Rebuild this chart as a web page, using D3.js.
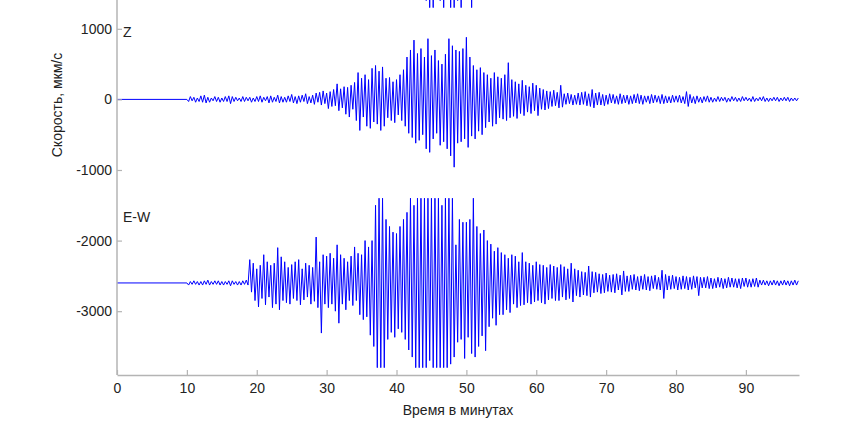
<!DOCTYPE html>
<html><head><meta charset="utf-8">
<script src="https://cdn.jsdelivr.net/npm/d3@7"></script>
<style>
html,body{margin:0;padding:0;background:#fff;}
svg{display:block;font-family:"Liberation Sans",Arial,Helvetica,sans-serif;}
</style></head><body>
<svg id="chart" width="848" height="424"></svg>
<script>
// ---------------- data ----------------
const xTicks = [0,10,20,30,40,50,60,70,80,90];
const yTicks = [-3000,-2000,-1000,0,1000];
const xLabel = "Время в минутах";
const yLabel = "Скорость, мкм/с";
const traceNames = ["Z","E-W","N-S"];
const traceOffsets = [0,-2600,2600];     // baseline of each trace, мкм/с
const traceStart = [10,10,42];          // first sample, minutes
const sampleStep = 0.25;                // minutes between samples
const leadStart = 0;                    // flat trace before first sample

// Z component, deviation from baseline (мкм/с), every 0.25 min from 10 min
const zValues = [
 0,-30,40,-20, 30,-40,20,-30, 50,-40,60,-50, 30,-40,20,-20, 40,-30,30,-40,
 20,-30,40,-30, 50,-60,40,-30, 30,-20,20,-30, 40,-30,30,-20, 30,-40,20,-30,
 40,-30,50,-40, 30,-20,40,-50, 50,-40,30,-30, 60,-50,40,-40, 30,-40,50,-30,
 70,-50,40,-60, 50,-40,60,-30, 80,-60,40,-50, 60,-70,90,-40, 100,-80,120,-60,
 90,-130,110,-100, 140,-90,220,-160, 150,-120,180,-210, 170,-250,200,-140, 240,-300,380,-440,
 300,-250,350,-380, 280,-410,440,-320, 480,-350,400,-440, 460,-380,300,-260, 310,-300,250,-330,
 280,-220,350,-300, 420,-380,600,-480, 700,-540,840,-620, 650,-580,720,-500, 600,-700,860,-750,
 620,-560,700,-480, 550,-650,500,-600, 640,-700,860,-800, 760,-960,700,-620, 680,-600,720,-560,
 880,-680,600,-520, 480,-560,420,-450, 450,-500,380,-400, 350,-320,300,-380, 380,-350,320,-260,
 300,-280,350,-300, 520,-260,280,-240, 250,-270,220,-200, 270,-230,200,-180, 180,-200,230,-160,
 200,-230,160,-140, 140,-150,120,-130, 110,-100,130,-90, 100,-120,200,-110, 80,-70,90,-60,
 70,-80,60,-70, 90,-80,100,-70, 110,-90,80,-100, 140,-120,90,-80, 100,-80,70,-90,
 60,-70,80,-50, 70,-60,50,-70, 80,-60,60,-50, 60,-70,50,-60, 70,-50,80,-60,
 60,-70,50,-40, 50,-60,70,-50, 60,-40,50,-60, 70,-60,50,-50, 40,-50,60,-40,
 50,-40,60,-50, 40,-60,110,-100, 70,-50,40,-60, 50,-40,30,-50, 40,-30,50,-40,
 30,-40,20,-30, 40,-30,30,-20, 30,-40,20,-30, 40,-20,30,-30, 20,-30,40,-20,
 30,-20,20,-30, 40,-30,20,-20, 30,-20,40,-30, 20,-30,20,-20, 30,-20,30,-30,
 20,-20,30,-20, 30,-30,20,-20, 20,-20,20
];

// E-W component, deviation from baseline (мкм/с), every 0.25 min from 10 min
const ewValues = [
 0,-30,20,-20, 30,-20,20,-30, 20,-30,30,-20, 40,-30,20,-20, 30,-20,30,-30,
 20,-30,20,-20, 30,-40,30,-20, 20,-30,20,-30, 30,-20,40,-30, 330,-130,280,-250,
 200,-340,250,-220, 400,-310,300,-200, 250,-350,280,-300, 500,-380,370,-250, 300,-280,220,-300,
 260,-220,300,-250, 330,-310,200,-240, 280,-200,250,-300, 220,-260,650,-350, 300,-710,400,-300,
 380,-350,420,-300, 350,-400,540,-570, 400,-300,350,-380, 300,-250,380,-320, 510,-250,420,-450,
 400,-520,600,-480, 510,-740,600,-900, 1100,-1200,1200,-1200, 1200,-1200,900,-800, 800,-700,720,-770,
 700,-650,800,-700, 900,-800,1000,-950, 1200,-1050,1100,-1200, 1200,-1200,1200,-1200, 1200,-1200,1200,-1100,
 1200,-1200,1200,-1200, 1200,-1200,1100,-1200, 1200,-1200,1200,-1150, 1200,-1050,540,-840, 900,-800,860,-1070,
 860,-770,900,-1000, 1200,-1050,800,-900, 700,-750,750,-960, 600,-620,550,-500, 450,-600,500,-450,
 430,-450,400,-380, 350,-420,400,-300, 380,-350,300,-320, 430,-310,300,-280, 280,-300,250,-270,
 300,-250,260,-280, 250,-300,220,-240, 260,-220,240,-250, 220,-250,260,-200, 230,-240,200,-220,
 280,-270,200,-180, 180,-200,160,-170, 150,-180,240,-200, 160,-140,150,-130, 130,-150,120,-140,
 140,-120,110,-130, 120,-140,130,-100, 110,-170,170,-120, 100,-120,110,-90, 120,-100,90,-110,
 100,-90,120,-100, 90,-110,100,-80, 110,-90,80,-100, 180,-220,120,-100, 100,-90,110,-80,
 90,-100,80,-90, 100,-80,90,-100, 80,-90,100,-70, 90,-180,80,-70, 80,-70,90,-80,
 70,-80,60,-70, 80,-60,70,-80, 60,-70,80,-60, 70,-60,60,-70, 60,-80,70,-50,
 70,-60,50,-60, 60,-50,70,-60, 40,-30,40,-30, 30,-40,30,-30, 40,-30,30,-40,
 30,-30,40,-30, 30,-40,30,-30, 40,-30,30
];

// N-S component (only the part reaching into the visible window), from 42 min
const nsValues = [
 900,-1000,1000,-1100, 1000,-900,1100,-1000, 1100,-1200,1000,-1300, 1100,-1300,1000,-1100,
 1000,-1200,1100,-1300, 1000,-1100,1100,-1300, 1000,-1300,1100,-1200, 1000,-1300,1000,-1100,
 900,-1000,1000,-1300, 900
];

// ---------------- layout ----------------
const plot = {left:117, right:799, top:0, bottom:375};
const xDomain = [0, 97.6];
const yDomain = [-3904, 1408];
const lineColor = "#0000ff";
const axisColor = "#b4b4b4";
const textColor = "#222";
const fontSize = 14;

const svg = d3.select("#chart");
const x = d3.scaleLinear().domain(xDomain).range([plot.left, plot.right]);
const y = d3.scaleLinear().domain(yDomain).range([plot.bottom, plot.top]);

svg.append("defs").append("clipPath").attr("id","clip")
  .append("rect").attr("x",plot.left).attr("y",plot.top)
  .attr("width",plot.right-plot.left+1).attr("height",plot.bottom-plot.top);

function buildSeries(values, start, offset, withLead){
  const pts = values.map((v,i)=>({t:start+i*sampleStep, v:offset+v}));
  if (withLead) pts.unshift({t:leadStart, v:offset});
  return pts;
}
const series = [
  buildSeries(zValues, traceStart[0], traceOffsets[0], true),
  buildSeries(ewValues, traceStart[1], traceOffsets[1], true),
  buildSeries(nsValues, traceStart[2], traceOffsets[2], false)
];

const line = d3.line().x(d=>x(d.t)).y(d=>y(d.v));
const g = svg.append("g").attr("clip-path","url(#clip)");
series.forEach(s=>{
  g.append("path").datum(s).attr("d",line)
   .attr("fill","none").attr("stroke",lineColor).attr("stroke-width",1)
   .attr("stroke-linejoin","miter");
});

// axes
const fmt = d => String(d);
const yAxis = d3.axisLeft(y).tickValues(yTicks).tickSizeInner(-5).tickSizeOuter(0).tickPadding(5).tickFormat(fmt);
const xAxis = d3.axisBottom(x).tickValues(xTicks).tickSizeInner(-5).tickSizeOuter(0).tickPadding(8).tickFormat(fmt);

const gy = svg.append("g").attr("transform",`translate(${plot.left},0)`).call(yAxis);
const gx = svg.append("g").attr("transform",`translate(0,${plot.bottom})`).call(xAxis);
[gx,gy].forEach(a=>{
  a.select(".domain").attr("stroke",axisColor).attr("stroke-width",1.5);
  a.selectAll(".tick line").attr("stroke",axisColor).attr("stroke-width",1.2);
  a.selectAll(".tick text").attr("fill",textColor).attr("font-size",fontSize)
   .attr("font-family","'Liberation Sans',Arial,sans-serif");
});
gy.select(".domain").attr("d",`M0,${plot.top}V${plot.bottom}`);

// titles
svg.append("text").attr("x",(plot.left+plot.right)/2).attr("y",415)
  .attr("text-anchor","middle").attr("font-size",fontSize).attr("fill",textColor).text(xLabel);
svg.append("text").attr("transform",`translate(62,105) rotate(-90)`)
  .attr("text-anchor","middle").attr("font-size",fontSize).attr("fill",textColor).text(yLabel);

// trace names
svg.append("text").attr("x",plot.left+6).attr("y",y(traceOffsets[0]+1000)+8)
  .attr("font-size",fontSize).attr("fill",textColor).text(traceNames[0]);
svg.append("text").attr("x",plot.left+6).attr("y",y(traceOffsets[1]+1000)+10)
  .attr("font-size",fontSize).attr("fill",textColor).text(traceNames[1]);
</script>
</body></html>
